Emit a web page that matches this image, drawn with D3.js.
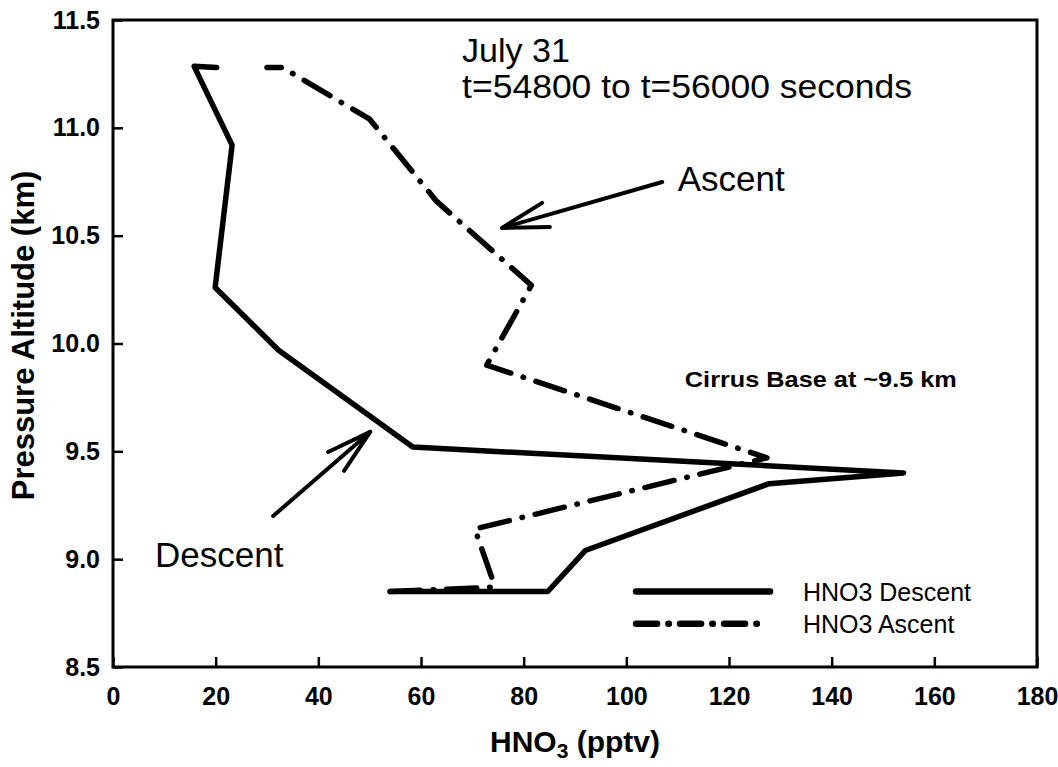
<!DOCTYPE html>
<html>
<head>
<meta charset="utf-8">
<script src="https://cdn.jsdelivr.net/npm/d3@7"></script>
<style>
  body { margin: 0; background: #fff; }
  text { font-family: "Liberation Sans", Arial, sans-serif; fill: #000; }
</style>
</head>
<body>
<div id="chart"></div>
<script>
// HNO3 profiles, July 31
// descent, in flight order (top -> bottom)
let descentHNO3 = [20.2, 15.8, 23.2, 19.9, 32.2, 58.4, 154, 127.8, 92, 84.7, 54];
let descentAlt  = [11.28, 11.285, 10.92, 10.26, 9.97, 9.52, 9.40, 9.35, 9.04, 8.85, 8.85];
// ascent, in flight order (bottom -> top)
let ascentHNO3 = [54, 74, 74, 70.5, 127.4, 72.8, 81.5, 63, 50, 33, 30];
let ascentAlt  = [8.85, 8.87, 8.90, 9.14, 9.47, 9.90, 10.27, 10.66, 11.04, 11.28, 11.28];

let xTicks = [0, 20, 40, 60, 80, 100, 120, 140, 160, 180];
let yTicks = [8.5, 9.0, 9.5, 10.0, 10.5, 11.0, 11.5];

let w = 1058, h = 767;
let padLeft = 113, padRight = 1037, padTop = 20, padBottom = 667;

let svg = d3.select("#chart").append("svg")
    .attr("width", w)
    .attr("height", h)
;

let xScale = d3.scaleLinear().domain([0, 180]).range([padLeft, padRight]);
let yScale = d3.scaleLinear().domain([8.5, 11.5]).range([padBottom, padTop]);

// axes, ticks point inward
let xAxis = d3.axisBottom(xScale).tickValues(xTicks)
    .tickSizeInner(-10).tickSizeOuter(0).tickPadding(20)
    .tickFormat(d3.format("d"));
let xAxisGroup = svg.append("g")
    .attr("transform", "translate(0," + padBottom + ")")
    .call(xAxis);

let yAxis = d3.axisLeft(yScale).tickValues(yTicks)
    .tickSizeInner(-10).tickSizeOuter(0).tickPadding(13)
    .tickFormat(d3.format(".1f"));
let yAxisGroup = svg.append("g")
    .attr("transform", "translate(" + padLeft + ",0)")
    .call(yAxis);

[xAxisGroup, yAxisGroup].forEach(function(g){
  g.select(".domain").remove();
  g.selectAll(".tick line").attr("stroke", "#000").attr("stroke-width", 2.5);
  g.selectAll(".tick text")
    .attr("font-size", "25px")
    .attr("font-weight", "bold")
    .attr("font-family", "'Liberation Sans', Arial, sans-serif")
    .attr("fill", "#000");
});

// frame
svg.append("rect")
    .attr("x", padLeft).attr("y", padTop)
    .attr("width", padRight - padLeft).attr("height", padBottom - padTop)
    .attr("fill", "none")
    .attr("stroke", "#000")
    .attr("stroke-width", 3)
;

// profiles
let line = d3.line()
    .x(function(d){ return xScale(d[0]); })
    .y(function(d){ return yScale(d[1]); });

let descent = d3.zip(descentHNO3, descentAlt);
let ascent = d3.zip(ascentHNO3, ascentAlt);

svg.append("path")
    .datum(descent)
    .attr("d", line)
    .attr("fill", "none")
    .attr("stroke", "#000")
    .attr("stroke-width", 5.5)
    .attr("stroke-linejoin", "round")
    .attr("stroke-linecap", "round")
;
svg.append("path")
    .datum(ascent)
    .attr("d", line)
    .attr("fill", "none")
    .attr("stroke", "#000")
    .attr("stroke-width", 5.5)
    .attr("stroke-linejoin", "round")
    .attr("stroke-linecap", "round")
    .attr("stroke-dasharray", "30,13,0.5,13")
;

// annotation arrows (in data units)
let arrows = [
  { shaft: [[107, 10.749], [75.8, 10.536]], arms: [[83.6, 10.652], [85.1, 10.540]] },
  { shaft: [[31.2, 9.200], [50.1, 9.590]], arms: [[41.9, 9.497], [45.0, 9.409]] }
];
arrows.forEach(function(a){
  let tip = a.shaft[1];
  let g = svg.append("g")
      .attr("stroke", "#000")
      .attr("stroke-width", 4)
      .attr("stroke-linecap", "round")
      .attr("fill", "none");
  g.append("path").attr("d", line(a.shaft));
  g.append("path").attr("d", line([a.arms[0], tip, a.arms[1]]))
      .attr("stroke-linejoin", "round");
});

// text labels
function label(txt, v, alt, size, weight){
  return svg.append("text")
      .attr("x", xScale(v))
      .attr("y", yScale(alt))
      .attr("font-size", size + "px")
      .attr("font-weight", weight || "normal")
      .text(txt);
}
label("July 31", 68, 11.305, 34);
label("t=54800 to t=56000 seconds", 68, 11.14, 34)
    .attr("textLength", 450).attr("lengthAdjust", "spacingAndGlyphs");
label("Ascent", 110, 10.705, 35);
label("Descent", 8.2, 8.964, 35);
label("Cirrus Base at ~9.5 km", 111.4, 9.798, 22, "bold")
    .attr("textLength", 272).attr("lengthAdjust", "spacingAndGlyphs");

// legend
let legendItems = [
  { name: "HNO3 Descent", dash: null, alt: 8.85, x2: 128 },
  { name: "HNO3 Ascent", dash: "21,11.25,0.5,11.25", alt: 8.70, x2: 125.5 }
];
legendItems.forEach(function(d){
  let ly = yScale(d.alt);
  svg.append("line")
      .attr("x1", xScale(101.9)).attr("x2", xScale(d.x2))
      .attr("y1", ly).attr("y2", ly)
      .attr("stroke", "#000")
      .attr("stroke-width", 6.5)
      .attr("stroke-linecap", "round")
      .attr("stroke-dasharray", d.dash);
  svg.append("text")
      .attr("x", xScale(134.4))
      .attr("y", ly + 9)
      .attr("font-size", "25px")
      .text(d.name);
});

// axis titles
let xTitle = svg.append("text")
    .attr("x", (padLeft + padRight) / 2)
    .attr("y", 752)
    .attr("text-anchor", "middle")
    .attr("font-size", "30px")
    .attr("font-weight", "bold");
xTitle.append("tspan").text("HNO");
xTitle.append("tspan").attr("dy", 6).attr("font-size", "21px").text("3");
xTitle.append("tspan").attr("dy", -6).text(" (pptv)");

svg.append("text")
    .attr("transform", "translate(34," + ((padTop + padBottom) / 2 - 8) + ") rotate(-90)")
    .attr("text-anchor", "middle")
    .attr("font-size", "31px")
    .attr("font-weight", "bold")
    .text("Pressure Altitude (km)");
</script>
</body>
</html>
